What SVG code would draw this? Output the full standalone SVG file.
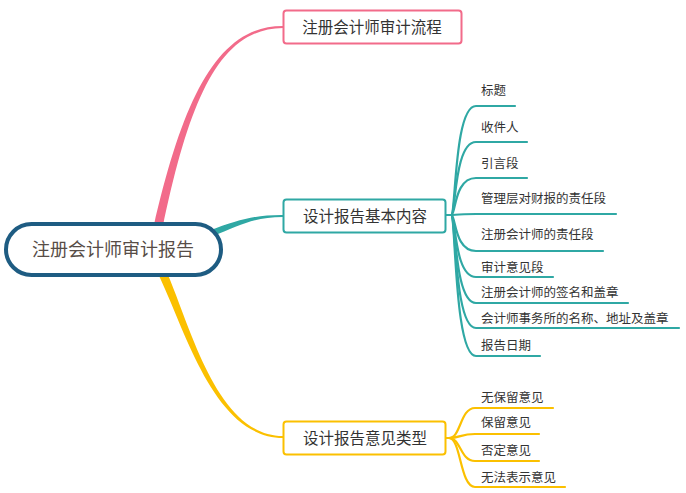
<svg xmlns="http://www.w3.org/2000/svg" width="686" height="493" viewBox="0 0 686 493">
<style>
.bg{fill:#ffffff}
.tb{fill:none;stroke:#2fa8a4;stroke-width:2.2;stroke-linecap:round}
.yb{fill:none;stroke:#fbc000;stroke-width:2.2;stroke-linecap:round}
.node{fill:#ffffff;stroke-width:2}
.nt{font-family:"Noto Sans CJK SC","Noto Sans CJK TC",sans-serif;font-size:15.5px;fill:#333333;text-anchor:middle}
.ct{font-family:"Noto Sans CJK SC","Noto Sans CJK TC",sans-serif;font-size:12.5px;fill:#333333}
</style>
<rect class="bg" x="0" y="0" width="686" height="493"/>
<g id="connectors">
  <path fill="#f26b8a" d="M162.4,229 C189,101 218.8,28.3 283,28 L283,26 C217.2,25.7 183,99 153.6,227 Z"/>
  <path fill="#2fa8a4" d="M211.2,237 C241,224.5 255,217.2 283,217 L283,215 C255,214.8 239,219.5 208.8,230.8 Z"/>
  <path fill="#fbc000" d="M156,270 C183.1,321.4 211.5,437.8 283,438 L283,436 C214.5,436.2 188.9,318.6 164,266 Z"/>
  <path class="tb" d="M445,215 L451,215"/>
  <path class="tb" d="M451,215 C456,215 454,106 476,106 L515,106"/>
  <path class="tb" d="M451,215 C456,215 454,142 476,142 L527,142"/>
  <path class="tb" d="M451,215 C456,215 454,178 476,178 L527,178"/>
  <path class="tb" d="M451,215 C456,215 456,214 476,214 L616,214"/>
  <path class="tb" d="M451,215 C456,215 454,251 476,251 L603,251"/>
  <path class="tb" d="M451,215 C456,215 454,277 476,277 L553,277"/>
  <path class="tb" d="M451,215 C456,215 454,303 476,303 L628,303"/>
  <path class="tb" d="M451,215 C456,215 454,328 476,328 L679,328"/>
  <path class="tb" d="M451,215 C456,215 454,356 476,356 L540,356"/>
  <path class="yb" d="M446,438 L449,438"/>
  <path class="yb" d="M449,438 C461,438 460,408 475,408 L553,408"/>
  <path class="yb" d="M449,438 C461,438 460,434 475,434 L539,434"/>
  <path class="yb" d="M449,438 C461,438 460,461 475,461 L539,461"/>
  <path class="yb" d="M449,438 C461,438 460,487 475,487 L565,487"/>
</g>
<g id="root">
  <rect x="6" y="224" width="215" height="51" rx="25.5" fill="#ffffff" stroke="#1e5c82" stroke-width="4"/>
  <text x="113" y="256" font-family="Noto Sans CJK SC,sans-serif" font-size="18" fill="#574d47" text-anchor="middle">注册会计师审计报告</text>
</g>
<g id="n-process">
  <rect class="node" x="283.5" y="10.5" width="178" height="33" rx="3" stroke="#f26b8a"/>
  <text class="nt" x="372" y="32.5">注册会计师审计流程</text>
</g>
<g id="n-content">
  <rect class="node" x="283.5" y="199.5" width="162" height="33" rx="3" stroke="#2fa8a4"/>
  <text class="nt" x="365" y="221.5">设计报告基本内容</text>
</g>
<g id="n-types">
  <rect class="node" x="283.5" y="421.5" width="162" height="33" rx="3" stroke="#fbc000"/>
  <text class="nt" x="365" y="443.5">设计报告意见类型</text>
</g>
<g id="c1"><text class="ct" x="481" y="95">标题</text></g>
<g id="c2"><text class="ct" x="481" y="132">收件人</text></g>
<g id="c3"><text class="ct" x="481" y="168">引言段</text></g>
<g id="c4"><text class="ct" x="481" y="203">管理层对财报的责任段</text></g>
<g id="c5"><text class="ct" x="481" y="239">注册会计师的责任段</text></g>
<g id="c6"><text class="ct" x="481" y="272">审计意见段</text></g>
<g id="c7"><text class="ct" x="481" y="297">注册会计师的签名和盖章</text></g>
<g id="c8"><text class="ct" x="481" y="323">会计师事务所的名称、地址及盖章</text></g>
<g id="c9"><text class="ct" x="481" y="350">报告日期</text></g>
<g id="y1"><text class="ct" x="481" y="402">无保留意见</text></g>
<g id="y2"><text class="ct" x="481" y="427">保留意见</text></g>
<g id="y3"><text class="ct" x="481" y="455">否定意见</text></g>
<g id="y4"><text class="ct" x="481" y="482">无法表示意见</text></g>
</svg>
